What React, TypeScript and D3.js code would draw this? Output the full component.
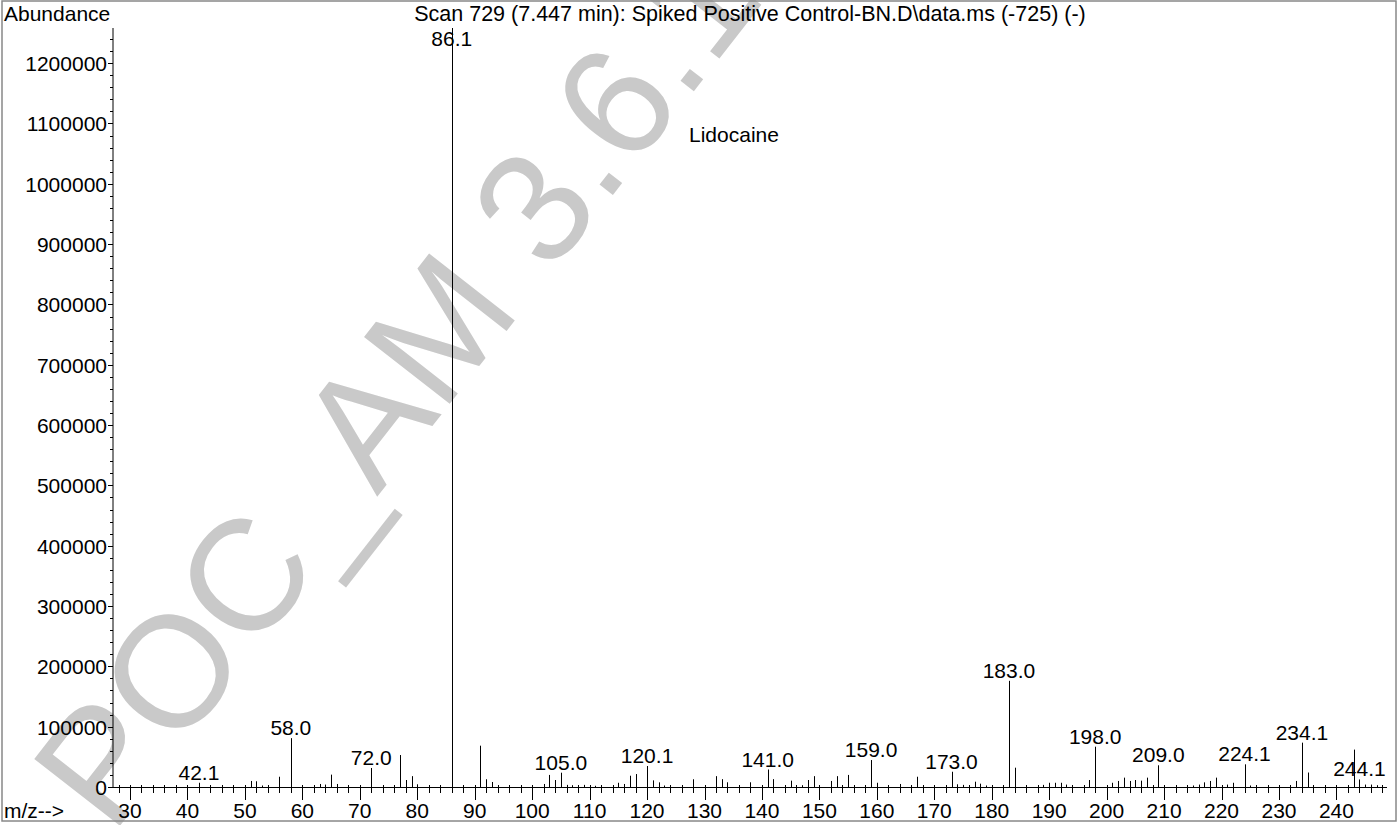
import React from 'react';
import * as d3 from 'd3';

// m/z values and abundances
const mzValues = [
  42, 51, 52, 53, 56, 58, 63, 64, 65, 66, 72, 77, 78, 79, 80, 86, 91, 92, 93, 94,
  102, 103, 104, 105, 106, 107, 109, 111, 115, 116, 117, 118, 120, 121, 122, 123,
  128, 132, 133, 134, 138, 141, 142, 145, 147, 148, 149, 152, 153, 155, 159, 160,
  164, 167, 173, 174, 175, 177, 178, 179, 183, 184, 189, 190, 191, 192, 193, 194,
  197, 198, 201, 202, 203, 204, 205, 206, 207, 209, 215, 216, 217, 218, 219, 221,
  222, 224, 225, 233, 234, 235, 243, 244, 245, 246, 247,
];
const abundanceValues = [
  7000, 10000, 9500, 2500, 17000, 81000, 5000, 4000, 20500, 5000, 31500, 53000, 11600, 18000, 4500, 1255000, 68500, 12800, 8300, 3000,
  5000, 20000, 11600, 23700, 3500, 3000, 3500, 2000, 7000, 5000, 18700, 21500, 34800, 11000, 7700, 2500,
  12800, 18000, 13000, 7800, 7800, 29000, 13000, 10500, 3000, 11600, 18000, 10000, 18000, 20000, 44700, 7000,
  5000, 17000, 25300, 4500, 3500, 8800, 5500, 2500, 176000, 32000, 3500, 7000, 7000, 7000, 4000, 3000,
  11600, 66800, 7000, 10000, 15500, 10000, 11600, 10500, 15500, 36000, 2500, 4000, 7700, 10000, 15500, 4000,
  7000, 37600, 2500, 10000, 73500, 24000, 62000, 12500, 4000, 4000, 3000,
];

// labelled peaks
const labelMz = [42, 58, 72, 86, 105, 120, 141, 159, 173, 183, 198, 209, 224, 234, 244];
const labelTexts = ['42.1', '58.0', '72.0', '86.1', '105.0', '120.1', '141.0', '159.0', '173.0', '183.0', '198.0', '209.0', '224.1', '234.1', '244.1'];

const xMajorTicks = d3.range(30, 241, 10);
const xMinorTicks = d3.range(28, 249, 2);
const yMajorTicks = d3.range(0, 1200001, 100000);
const yMinorTicks = d3.range(0, 1250001, 20000);

const titleText = 'Scan 729 (7.447 min): Spiked Positive Control-BN.D\\data.ms (-725) (-)';
const yTitle = 'Abundance';
const xTitle = 'm/z-->';
const compoundName = 'Lidocaine';
const watermark = 'POC_AM 3.6.1';

const FONT = '"Liberation Sans", Arial, Helvetica, sans-serif';

export default function App() {
  const W = 1400;
  const H = 825;
  const x = d3.scaleLinear().domain([27.04, 248.8]).range([113, 1387]);
  const y = d3.scaleLinear().domain([0, 1255000]).range([787, 30]);
  const y0 = y(0);
  const px = (v: number) => Math.round(x(v)) + 0.5;
  const fs = 21;
  const plotCenter = (x.range()[0] + x.range()[1]) / 2;

  const peaks = mzValues.map((m, i) => ({ m, v: abundanceValues[i] }));
  const peakMap = new Map(peaks.map((p) => [p.m, p.v]));

  return (
    <svg width={W} height={H} style={{ position: 'absolute', left: 0, top: 0, background: '#fff' }} fontFamily={FONT}>
      <rect x={0} y={0} width={W} height={H} fill="#fff" />
      {/* watermark */}
      <text transform="translate(112,836) rotate(-52)" fontSize={158} fill="#c9c9c9">
        {watermark}
      </text>
      {/* frame */}
      <rect x={2} y={1} width={1394} height={820} fill="none" stroke="#888" strokeWidth={1.5} />

      {/* axes */}
      <line x1={113} x2={113} y1={y.range()[1] - 2} y2={y0} stroke="#000" strokeWidth={1} />
      <line x1={113} x2={x.range()[1]} y1={y0 + 0.5} y2={y0 + 0.5} stroke="#000" strokeWidth={1} />

      {/* x ticks */}
      {xMinorTicks.map((t) => (
        <line key={'xm' + t} x1={px(t)} x2={px(t)} y1={y0 - 2} y2={y0 + 6} stroke="#000" strokeWidth={1} />
      ))}
      {xMajorTicks.map((t) => (
        <g key={'xM' + t}>
          <line x1={px(t)} x2={px(t)} y1={y0} y2={y0 + 13} stroke="#000" strokeWidth={1} />
          <text x={x(t)} y={818} fontSize={fs} textAnchor="middle" fill="#000">
            {t}
          </text>
        </g>
      ))}

      {/* y ticks */}
      {yMinorTicks.map((t) => (
        <line key={'ym' + t} x1={110} x2={113} y1={Math.round(y(t)) + 0.5} y2={Math.round(y(t)) + 0.5} stroke="#000" strokeWidth={1} />
      ))}
      {yMajorTicks.map((t) => (
        <g key={'yM' + t}>
          <line x1={108} x2={113} y1={Math.round(y(t)) + 0.5} y2={Math.round(y(t)) + 0.5} stroke="#000" strokeWidth={1} />
          <text x={107} y={y(t) + 8} fontSize={fs} textAnchor="end" fill="#000">
            {t}
          </text>
        </g>
      ))}

      {/* peaks */}
      {peaks.map((p) => (
        <line key={'p' + p.m} x1={px(p.m)} x2={px(p.m)} y1={y0} y2={y(p.v) - (p.v >= y.domain()[1] ? 2 : 0)} stroke="#000" strokeWidth={1} />
      ))}

      {/* peak labels */}
      {labelMz.map((m, i) => (
        <text
          key={'l' + m}
          x={x(m)}
          y={Math.max(y(peakMap.get(m) || 0) - 3, y.range()[1] + 16)}
          fontSize={fs}
          textAnchor="middle"
          fill="#000"
        >
          {labelTexts[i]}
        </text>
      ))}

      {/* titles */}
      <text x={4} y={21} fontSize={fs} fill="#000">
        {yTitle}
      </text>
      <text x={plotCenter} y={21} fontSize={21.5} textAnchor="middle" fill="#000">
        {titleText}
      </text>
      <text x={689} y={142} fontSize={fs} fill="#000">
        {compoundName}
      </text>
      <text x={4} y={818} fontSize={fs} fill="#000">
        {xTitle}
      </text>
    </svg>
  );
}
